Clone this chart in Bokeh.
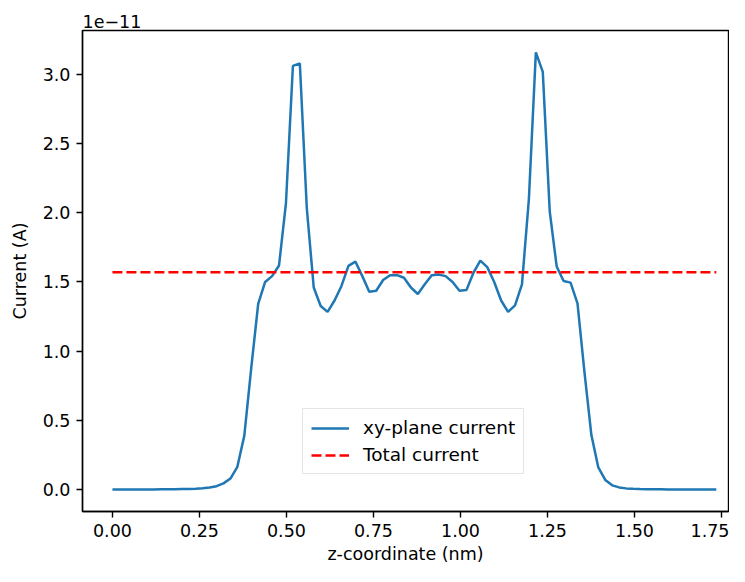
import numpy as np
from bokeh.plotting import figure
from bokeh.models import Range1d, FixedTicker, NumeralTickFormatter
from bokeh.embed import file_html
from bokeh.resources import INLINE

# ---- data (current in units of 1e-11 A) ----
z_start = 0.0
z_end = 1.735
n_points = 88
z = np.linspace(z_start, z_end, n_points)

xy_current = [
    0.000, 0.000, 0.000, 0.000, 0.000, 0.001, 0.001, 0.002, 0.002, 0.003,
    0.004, 0.005, 0.007, 0.010, 0.015, 0.025, 0.045, 0.080, 0.165, 0.390,
    0.880, 1.342, 1.500, 1.542, 1.619, 2.070, 3.060, 3.078, 2.034, 1.460,
    1.326, 1.284, 1.366, 1.471, 1.616, 1.647, 1.542, 1.429, 1.436, 1.514,
    1.549, 1.549, 1.530, 1.460, 1.413, 1.483, 1.549, 1.553, 1.542, 1.500,
    1.436, 1.441, 1.565, 1.654, 1.607, 1.500, 1.366, 1.284, 1.331, 1.483,
    2.100, 3.158, 3.017, 2.010, 1.612, 1.507, 1.495, 1.345, 0.850, 0.394,
    0.160, 0.070, 0.031, 0.016, 0.009, 0.006, 0.004, 0.003, 0.002, 0.002,
    0.001, 0.001, 0.001, 0.000, 0.000, 0.000, 0.000, 0.000,
]
total_current = 1.57
scale_label = "1e\u221211"

x_ticks = [0.0, 0.25, 0.5, 0.75, 1.0, 1.25, 1.5, 1.75]
y_ticks = [0.0, 0.5, 1.0, 1.5, 2.0, 2.5, 3.0]

FONT = "DejaVu Sans"
FS = "17.5px"

p = figure(width=729, height=566, output_backend="svg", toolbar_location=None,
           x_range=Range1d(-0.086, 1.770), y_range=Range1d(-0.158, 3.316),
           min_border_left=82, min_border_right=1, min_border_top=30,
           min_border_bottom=52)

p.line(z, xy_current, line_color="#1f77b4", line_width=2.5,
       legend_label="xy-plane current")
p.line([z[0], z[-1]], [total_current, total_current], line_color="red",
       line_width=2.5, line_dash="10 4", legend_label="Total current")

p.grid.visible = False
p.outline_line_color = "black"
p.outline_line_width = 1.4
p.background_fill_color = "white"
p.border_fill_color = "white"

p.title.text = scale_label
p.title.align = "left"
p.title.text_font = FONT
p.title.text_font_size = FS
p.title.text_font_style = "normal"
p.title.text_color = "black"
p.title.standoff = 5
p.title.offset = 0

for ax in (p.xaxis[0], p.yaxis[0]):
    ax.axis_line_color = "black"
    ax.axis_line_width = 1.4
    ax.major_tick_line_color = "black"
    ax.major_tick_line_width = 1.4
    ax.major_tick_out = 6
    ax.major_tick_in = 0
    ax.minor_tick_line_color = None
    ax.major_label_text_font = FONT
    ax.major_label_text_font_size = FS
    ax.major_label_text_color = "black"
    ax.major_label_standoff = 6
    ax.axis_label_text_font = FONT
    ax.axis_label_text_font_size = FS
    ax.axis_label_text_font_style = "normal"
    ax.axis_label_text_color = "black"

p.xaxis.ticker = FixedTicker(ticks=x_ticks)
p.yaxis.ticker = FixedTicker(ticks=y_ticks)
p.xaxis.formatter = NumeralTickFormatter(format="0.00")
p.yaxis.formatter = NumeralTickFormatter(format="0.0")
p.xaxis.axis_label = "z-coordinate (nm)"
p.yaxis.axis_label = "Current (A)"
p.xaxis.axis_label_standoff = 4
p.yaxis.axis_label_standoff = 10

lg = p.legend[0]
lg.location = (220, 37)
lg.label_text_font = FONT
lg.label_text_font_size = "18.5px"
lg.label_text_color = "black"
lg.border_line_color = "#cccccc"
lg.border_line_width = 1.5
lg.background_fill_color = "white"
lg.background_fill_alpha = 0.8
lg.glyph_width = 38
lg.glyph_height = 20
lg.label_height = 20
lg.label_standoff = 14
lg.spacing = 6
lg.padding = 8
lg.margin = 0

open("out.html", "w").write(file_html(p, INLINE))
